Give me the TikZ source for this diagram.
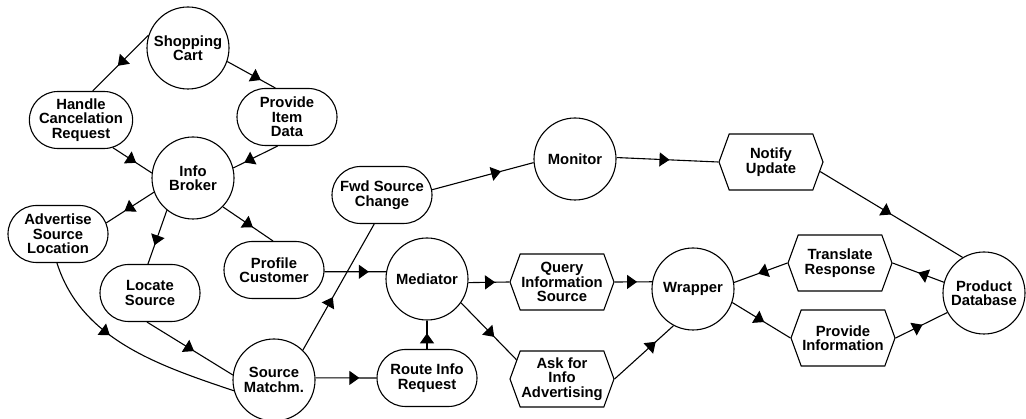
\documentclass[tikz,border=0pt]{standalone}
\usepackage{fontspec}
\setmainfont{Liberation Sans}
\usetikzlibrary{shapes.misc,shapes.symbols,arrows.meta,decorations.markings}
\begin{document}
\begin{tikzpicture}[x=1pt,y=-1pt,
 base/.style={draw, line width=1.1pt, align=center, inner sep=0pt, font=\fontsize{14.8}{14.5}\selectfont\bfseries},
 proc/.style={base, circle, minimum size=82pt},
 task/.style={base, rounded rectangle, minimum width=100pt, minimum height=57pt},
 hexa/.style={base, signal, signal to=west and east, signal pointer angle=140, minimum width=104pt, minimum height=56pt},
 flow/.style={line width=1.1pt, postaction={decorate}, decoration={markings, mark=at position #1 with {\arrow{Triangle[length=10pt,width=14pt]}}}},
 flow/.default=0.55]
\useasboundingbox (0,0) rectangle (1026,419);
% nodes
\node[proc] (sc) at (188,48) {Shopping\\Cart};
\node[task] (hcr) at (81,120) {Handle\\Cancelation\\Request};
\node[task] (pid) at (287,117) {Provide\\Item\\Data};
\node[proc] (ib) at (193,178) {Info\\Broker};
\node[task] (adv) at (58,234) {Advertise\\Source\\Location};
\node[task] (loc) at (150,293) {Locate\\Source};
\node[task] (prof) at (274,270) {Profile\\Customer};
\node[proc] (sm) at (274,380) {Source\\Matchm.};
\node[task] (fwd) at (382,195) {Fwd Source\\Change};
\node[proc] (mon) at (575,159) {Monitor};
\node[proc] (med) at (427,279) {Mediator};
\node[hexa] (qis) at (562,282) {Query\\Information\\Source};
\node[task] (rir) at (427,378) {Route Info\\Request};
\node[hexa] (ask) at (562,379) {Ask for\\Info\\Advertising};
\node[hexa] (nu) at (771,162) {Notify\\Update};
\node[proc] (wr) at (693,289) {Wrapper};
\node[hexa] (tr) at (840,263) {Translate\\Response};
\node[hexa] (pi) at (843,338) {Provide\\Information};
\node[proc] (pd) at (984,293) {Product\\Database};
% connectors
\draw[flow=0.55] (sc.162) -- (hcr.68);
\draw[flow=0.7] (sc.-19) -- (pid.112);
\draw[flow=0.6] (hcr.-41) -- (ib.173);
\draw[flow=0.75] (pid.-108) -- (ib.14);
\draw[flow=0.62] (ib.200) -- (adv.13);
\draw[flow=0.65] (ib.231) -- (loc.94);
\draw[flow=0.6] (ib.-44) -- (prof.92);
\draw[flow=0.55] (loc.-96) -- (sm.173);
\draw[flow=0.4] (adv.-92) .. controls (81,339) and (157,365) .. (sm.195);
\draw[flow=0.42] (sm.46) -- (fwd.-105);
\draw[flow=0.72] (sm.3) -- (rir.west);
\draw[flow=0.72] (prof.-2) -- (med.170);
\draw[flow=0.55] (rir.north) -- (med.south);
\draw[flow=0.68] (fwd.6) -- (mon.185);
\draw[flow=0.52] (mon.2) -- (nu.west);
\draw[flow=0.5] (nu.-11) -- (pd.121);
\draw[flow=0.65] (med.-5) -- (qis.west);
\draw[flow=0.6] (med.-35) -- (ask.157);
\draw[flow=0.6] (qis.east) -- (wr.170);
\draw[flow=0.7] (ask.east) -- (wr.242);
\draw[flow=0.5] (pd.165) -- (tr.east);
\draw[flow=0.55] (tr.west) -- (wr.9);
\draw[flow=0.55] (wr.-19) -- (pi.west);
\draw[flow=0.52] (pi.east) -- (pd.208);
\end{tikzpicture}
\end{document}
